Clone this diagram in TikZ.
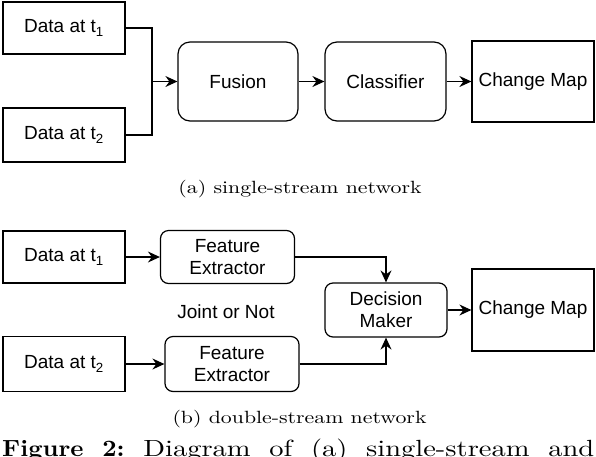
\documentclass[tikz,border=0pt]{standalone}
\usepackage{fontspec}
\usepackage{graphicx}
\usetikzlibrary{arrows.meta}
\newfontfamily\boxfont{Liberation Sans}
\newcommand{\figbf}[1]{\scalebox{2.5}[2.34]{\textbf{#1}}}
\newcommand{\figrm}[1]{\scalebox{2.85}[2.34]{#1}}
\begin{document}
\begin{tikzpicture}[x=1pt, y=-1pt,
    box/.style={draw, line width=1.2pt, minimum width=122pt, inner sep=0pt, align=center,
        font=\boxfont\fontsize{19}{22}\selectfont},
    blk/.style={box, rounded corners=8pt},
    wire/.style={line width=1.2pt},
    link/.style={line width=1.2pt, -{Stealth[length=12pt, width=11pt, inset=4pt]}},
    subcap/.style={anchor=base, inner sep=0pt}]
    \useasboundingbox (0,0) rectangle (596,456);
    % (a) single-stream network
    \node [box, minimum height=52pt] (d1a) at (64,28) {Data at t\textsubscript{1}};
    \node [box, minimum height=54pt] (d2a) at (64,135) {Data at t\textsubscript{2}};
    \node [blk, rounded corners=12pt, minimum width=120pt, minimum height=79pt] (fus) at (238,81.5) {Fusion};
    \node [blk, rounded corners=12pt, minimum width=121pt, minimum height=79pt] (cls) at (385.5,81.5) {Classifier};
    \node [box, minimum height=81pt] (cma) at (533,81.5) {Change Map};
    \coordinate (mrg) at (152,81.5);
    \draw [wire] (d1a.east) -| (mrg);
    \draw [wire] (d2a.east) -| (mrg);
    \draw [link] (mrg) -- (fus);
    \draw [link] (fus) -- (cls);
    \draw [link] (cls) -- (cma);
    \node [subcap] (capa) at (300,193.6) {\scalebox{2.18}[1.77]{(a) single-stream network}};
    % (b) double-stream network
    \node [box, minimum height=52pt] (d1b) at (64,257) {Data at t\textsubscript{1}};
    \node [blk, minimum width=134pt, minimum height=53pt] (fe1) at (227.5,257) {Feature\\Extractor};
    \node [font=\boxfont\fontsize{19}{22}\selectfont] (jon) at (226,312) {Joint or Not};
    \node [box, minimum height=55pt] (d2b) at (64,364) {Data at t\textsubscript{2}};
    \node [blk, minimum width=134pt, minimum height=55pt] (fe2) at (232,364) {Feature\\Extractor};
    \node [blk, minimum width=122pt, minimum height=54pt] (dm) at (386,310) {Decision\\Maker};
    \node [box, minimum height=82pt] (cmb) at (533,310) {Change Map};
    \draw [link] (d1b) -- (fe1);
    \draw [link] (d2b) -- (fe2);
    \draw [link] (fe1.east) -| (dm.north);
    \draw [link] (fe2.east) -| (dm.south);
    \draw [link] (dm) -- (cmb);
    \node [subcap] (capb) at (299.5,423.5) {\scalebox{2.18}[1.77]{(b) double-stream network}};
    \node [anchor=base west, inner sep=0pt] (fig) at (2,456.5)
        {\makebox[592pt][s]{\figbf{Figure} \figbf{2:} \figrm{Diagram} \figrm{of} \figrm{(a)} \figrm{single-stream} \figrm{and}}};
\end{tikzpicture}
\end{document}
